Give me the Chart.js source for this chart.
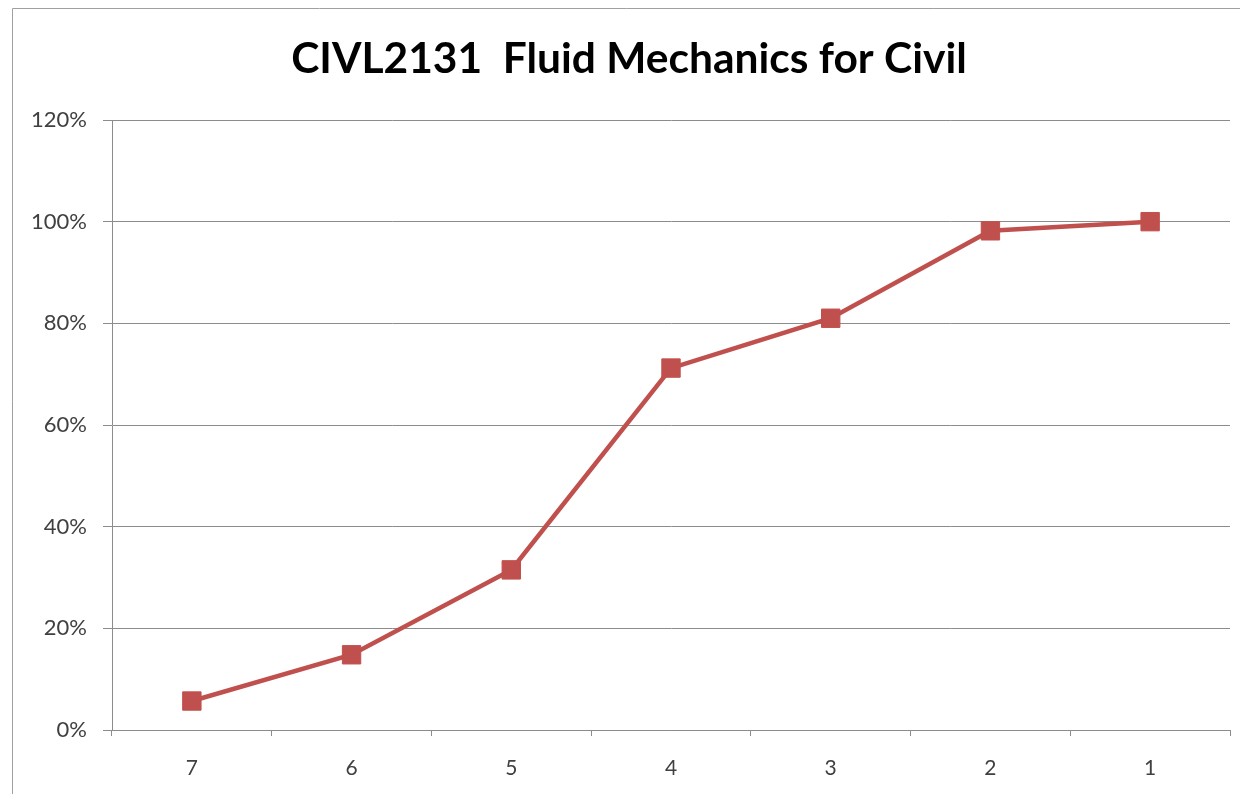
<!DOCTYPE html>
<html>
<head>
<meta charset="utf-8">
<script src="https://cdn.jsdelivr.net/npm/chart.js@4.4.0/dist/chart.umd.min.js"></script>
<style>
  html, body { margin: 0; padding: 0; background: #fff; overflow: hidden; }
  #wrap { width: 1240px; height: 794px; position: relative; }
  canvas { display: block; }
</style>
</head>
<body>
<div id="wrap"><canvas id="chart" width="1240" height="794"></canvas></div>
<script>
// grade bands, highest first
const grades = ['7', '6', '5', '4', '3', '2', '1']
// cumulative share of students (%)
const cumulative = [5.7, 14.8, 31.5, 71.2, 81, 98.2, 100]
const yTicks = [0, 20, 40, 60, 80, 100, 120]

const red = '#C0504D'
const gridGray = '#8c8c8c'
const textGray = '#404040'

// outer frame like the spreadsheet chart box
const framePlugin = {
  id: 'frame',
  beforeDraw(chart) {
    const ctx = chart.ctx
    ctx.save()
    ctx.fillStyle = '#fff'
    ctx.fillRect(0, 0, chart.width, chart.height)
    ctx.strokeStyle = '#a0a0a0'
    ctx.lineWidth = 1
    ctx.beginPath()
    ctx.moveTo(12.5, chart.height + 2)
    ctx.lineTo(12.5, 8.5)
    ctx.lineTo(chart.width + 2, 8.5)
    ctx.stroke()
    ctx.restore()
  }
}

new Chart(document.getElementById('chart'), {
  type: 'line',
  data: {
    labels: grades,
    datasets: [{
      data: cumulative,
      borderColor: red,
      backgroundColor: red,
      borderWidth: 4.5,
      pointStyle: 'rect',
      pointRadius: 13,
      pointBorderWidth: 1,
      pointBorderColor: red,
      pointBackgroundColor: red,
      tension: 0
    }]
  },
  options: {
    responsive: false,
    animation: false,
    layout: { autoPadding: false, padding: { left: 28, right: 10, top: 0, bottom: 0 } },
    plugins: {
      legend: { display: false },
      tooltip: { enabled: false },
      title: {
        display: true,
        text: 'CIVL2131  Fluid Mechanics for Civil',
        color: '#000',
        font: { family: 'Lato', size: 42.5, weight: 'bold' },
        padding: { top: 34, bottom: 35 }
      }
    },
    scales: {
      x: {
        offset: true,
        grid: {
          offset: true,
          drawOnChartArea: false,
          drawTicks: true,
          tickLength: 6,
          color: gridGray
        },
        border: { color: gridGray, width: 1 },
        ticks: {
          color: textGray,
          font: { family: 'Lato', size: 21 },
          padding: 20
        },
        afterFit(scale) {
          scale.height = 64
          scale.paddingLeft = 0
          scale.paddingRight = 0
        }
      },
      y: {
        min: 0,
        max: 120,
        afterBuildTicks(scale) { scale.ticks = yTicks.map(v => ({ value: v })) },
        grid: {
          color: gridGray,
          tickLength: 9,
          lineWidth: 1
        },
        border: { color: gridGray, width: 1 },
        ticks: {
          color: textGray,
          font: { family: 'Lato', size: 22 },
          padding: 16,
          callback: v => v + '%'
        },
        afterFit(scale) { scale.width = 84 }
      }
    }
  },
  plugins: [framePlugin]
})
</script>
</body>
</html>
